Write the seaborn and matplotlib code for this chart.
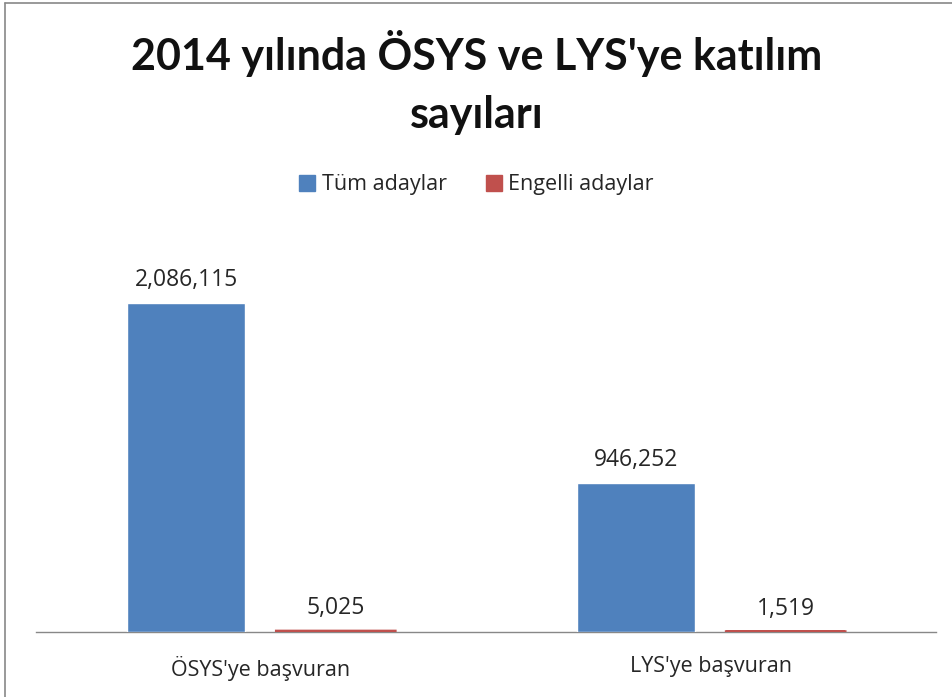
import matplotlib.pyplot as plt
import seaborn as sb
import pandas as pd
from matplotlib.lines import Line2D

# veriler
categories = ["ÖSYS'ye başvuran", "LYS'ye başvuran"]
series_names = ["Tüm adaylar", "Engelli adaylar"]
tum_adaylar = [2086115, 946252]
engelli_adaylar = [5025, 1519]
colors = ["#4F81BD", "#C0504D"]

df = pd.DataFrame({
    "kategori": categories * 2,
    "seri": [series_names[0]] * 2 + [series_names[1]] * 2,
    "deger": tum_adaylar + engelli_adaylar,
})

sb.set_theme(style="white")
plt.rcParams['font.family'] = ['Open Sans', 'DejaVu Sans']

fig = plt.figure(figsize=(9.53, 6.97), dpi=100)
ax = fig.add_axes([0.0378, 0.0933, 0.9442, 0.577])

sb.barplot(data=df, x="kategori", y="deger", hue="seri", palette=colors,
           width=0.665, gap=0.207, ax=ax, legend=False, saturation=1)

# çok küçük çubuklar görünsün diye kenar çizgisi
for bar in ax.containers[1]:
    bar.set_edgecolor(colors[1])
    bar.set_linewidth(2.2)
    bar.set_snap(False)
    bar.set_joinstyle('miter')

ax.set_xlim(-0.5, 1.5)
ax.set_ylim(0, 2549000)
for side in ['left', 'right', 'top']:
    ax.spines[side].set_visible(False)
ax.spines['bottom'].set_color('#888888')
ax.spines['bottom'].set_linewidth(1)
ax.spines['bottom'].set_zorder(0.5)
ax.set_yticks([])
ax.set_xlabel('')
ax.set_ylabel('')
ax.tick_params(axis='x', length=0, pad=17, labelsize=15.5, labelcolor='#262626')

# değer etiketleri
for cont in ax.containers:
    labels = [f'{v:,.0f}' for v in cont.datavalues]
    ax.bar_label(cont, labels=labels, padding=8, fontsize=16.5, color='#262626')

fig.text(0.5, 0.882, "2014 yılında ÖSYS ve LYS'ye katılım\nsayıları",
         ha='center', va='center', fontsize=31, fontweight='bold',
         color='#111111', linespacing=1.55, family=['Lato', 'DejaVu Sans'])

handles = [plt.Rectangle((0, 0), 1, 1, color=c) for c in colors]
fig.legend(handles, series_names, loc='center', bbox_to_anchor=(0.5, 0.735),
           ncol=2, frameon=False, fontsize=15.5, handlelength=0.75,
           handleheight=0.75, handletextpad=0.3, columnspacing=1.8,
           labelcolor='#262626')

# çerçeve
fig.add_artist(Line2D([5 / 953, 5 / 953], [0, 1 - 3 / 697], transform=fig.transFigure,
                      color='#888888', lw=1.2))
fig.add_artist(Line2D([5 / 953, 1], [1 - 3 / 697, 1 - 3 / 697], transform=fig.transFigure,
                      color='#888888', lw=1.2))

fig.savefig('out.png', dpi=100)
